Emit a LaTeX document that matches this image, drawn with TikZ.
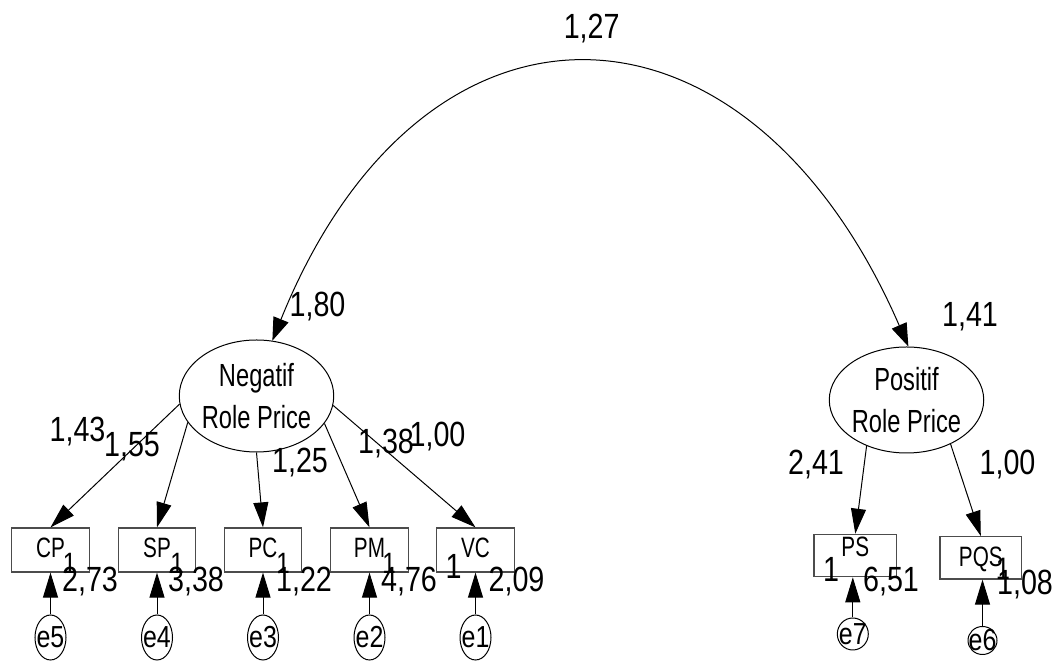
\documentclass[tikz,border=0pt]{standalone}
\usepackage{fontspec}
\setmainfont{Liberation Sans}[FakeStretch=0.74]
\newfontfamily\numfont{Liberation Sans}[FakeStretch=0.82]
\usetikzlibrary{shapes.geometric,arrows.meta}
\begin{document}
\begin{tikzpicture}[x=0.5pt,y=0.5pt,
  lat/.style={draw, ellipse, line width=0.5pt, minimum width=76.5pt, minimum height=56pt, inner sep=0pt, align=center, font=\fontsize{16}{21.3}\selectfont},
  obs/.style={draw=black!70, line width=0.6pt, rectangle, inner sep=0pt, minimum width=38.8pt, minimum height=22pt, font=\fontsize{14}{16}\selectfont, text height=10pt, text depth=2pt},
  err/.style={draw, ellipse, line width=0.5pt, inner sep=0pt, minimum width=15.5pt, minimum height=22.5pt},
  efont/.style={inner sep=0pt, font=\numfont\fontsize{15.2}{17}\selectfont},
  num/.style={anchor=base, inner sep=0pt, font=\numfont\fontsize{17.5}{20}\selectfont},
  one/.style={anchor=base, inner sep=0pt, font=\numfont\fontsize{14.7}{16}\selectfont},
  onebig/.style={anchor=base, inner sep=0pt, font=\numfont\fontsize{17.5}{20}\selectfont},
  arr/.style={-{Triangle[length=12.5pt,width=7.5pt]}, line width=0.5pt},
  cov/.style={{Triangle[length=11.5pt,width=8pt]}-{Triangle[length=11.5pt,width=8pt]}, line width=0.5pt}
]
\useasboundingbox (0,0) rectangle (1053,662);

% latent variables
\node[lat] (neg) at (256.5,266) {Negatif\\Role Price};
\node[lat, minimum height=53pt] (pos) at (906.5,262) {Positif\\Role Price};

% observed variables
\node[obs] (cp) at (50.5,112) {CP};
\node[obs] (sp) at (157,112) {SP};
\node[obs] (pc) at (263,112) {PC};
\node[obs] (pm) at (369.5,112) {PM};
\node[obs] (vc) at (475.5,112) {VC};
\node[obs, minimum width=41.3pt, minimum height=21.2pt, text depth=8.5pt] (ps) at (855.3,106.5) {PS};
\node[obs, minimum width=40.9pt, minimum height=21.2pt, text depth=1.1pt] (pqs) at (980.8,104.2) {PQS};

% error terms
\node[err, label={[efont]center:e5}] (e5) at (50.5,24.5) {};
\node[err, label={[efont]center:e4}] (e4) at (157,24.5) {};
\node[err, label={[efont]center:e3}] (e3) at (263,24.5) {};
\node[err, label={[efont]center:e2}] (e2) at (369.5,24.5) {};
\node[err, label={[efont]center:e1}] (e1) at (475.5,24.5) {};
\node[err, minimum width=15.5pt, minimum height=16pt, label={[efont]center:e7}] (e7) at (852.8,28) {};
\node[err, minimum width=14.5pt, minimum height=14pt, label={[efont]center:e6}] (e6) at (982.5,21.5) {};

% covariance
\draw[cov] (neg.74.3) .. controls +(68:403) and +(113.5:403) .. (pos.88.4);

% loadings
\draw[arr] (neg.186.9) -- (cp.north);
\draw[arr] (neg.201.5) -- (sp.north);
\draw[arr] (neg.270) -- (pc.north);
\draw[arr] (neg.338.5) -- (pm.north);
\draw[arr] (neg.353.2) -- (vc.north);
\draw[arr] (pos.229.2) -- (ps.north);
\draw[arr] (pos.315.9) -- (pqs.north);

% error paths
\draw[arr] (e5) -- (cp);
\draw[arr] (e4) -- (sp);
\draw[arr] (e3) -- (pc);
\draw[arr] (e2) -- (pm);
\draw[arr] (e1) -- (vc);
\draw[arr] (e7) -- (e7 |- ps.south);
\draw[arr] (e6) -- (e6 |- pqs.south);

% estimates
\node[num] (l127) at (591.7,623.7) {1,27};
\node[num] (l180) at (317.5,345) {1,80};
\node[num] (l141) at (970,335.3) {1,41};
\node[num] (l143) at (77.5,220.3) {1,43};
\node[num] (l155) at (132,205.3) {1,55};
\node[num] (l125) at (300,189) {1,25};
\node[num] (l138) at (386,208.7) {1,38};
\node[num] (l100a) at (437.5,215.3) {1,00};
\node[num] (l241) at (816,187) {2,41};
\node[num] (l100b) at (1007.5,187) {1,00};
\node[num] (l273) at (90,70.3) {2,73};
\node[num] (l338) at (196,70.3) {3,38};
\node[num] (l122) at (304,70.3) {1,22};
\node[num] (l476) at (409,70.3) {4,76};
\node[num] (l209) at (516.5,70.3) {2,09};
\node[num] (l651) at (891,70.3) {6,51};
\node[num] (l108) at (1025,67) {1,08};

% fixed regression weights
\node[one] (o1) at (69.5,88) {1};
\node[one] (o2) at (177,88) {1};
\node[one] (o3) at (283,88) {1};
\node[one] (o4) at (389,88) {1};
\node[onebig] (o5) at (453.5,83) {1};
\node[onebig] (o6) at (831,80.3) {1};
\node[one, font=\numfont\fontsize{15.5}{17}\selectfont] (o7) at (1003,82) {1};
\end{tikzpicture}
\end{document}
